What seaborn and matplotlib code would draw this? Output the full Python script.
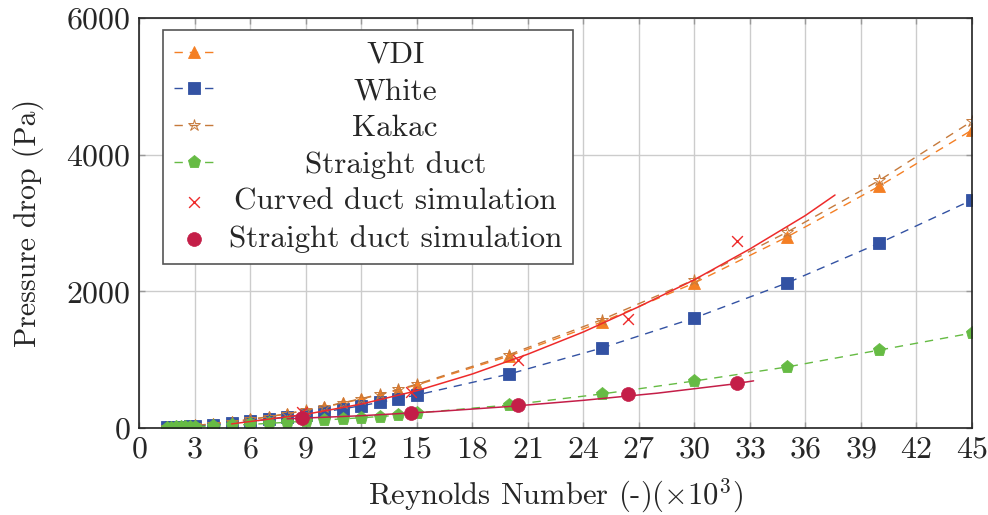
import numpy as np
import pandas as pd
import matplotlib
matplotlib.use("Agg")
import matplotlib.pyplot as plt
import seaborn as sns

# Reynolds numbers (x 10^3) for the correlations
re_corr = [1.5, 1.75, 2.0, 2.25, 2.5, 2.75, 3.0, 4, 5, 6, 7, 8, 9, 10, 11, 12,
           13, 14, 15, 20, 25, 30, 35, 40, 45]

# Pressure drop (Pa) from each correlation
dp_vdi = [11, 14, 18, 22, 27, 32, 37, 61, 91, 125, 164, 208, 256, 308, 364, 424,
          488, 556, 629, 1054, 1551, 2122, 2795, 3541, 4361]
dp_white = [8, 11, 14, 17, 21, 24, 28, 47, 70, 96, 126, 160, 197, 237, 280, 326,
            375, 428, 483, 790, 1171, 1610, 2122, 2707, 3337]
dp_kakac = [11, 14, 18, 22, 27, 32, 37, 61, 91, 126, 165, 210, 259, 312, 369, 430,
            495, 565, 640, 1075, 1585, 2170, 2865, 3625, 4490]
dp_straight = [5, 7, 9, 11, 13, 15, 17, 27, 39, 53, 68, 84, 100, 117, 134, 150,
               168, 186, 220, 337, 498, 688, 893, 1141, 1390]

# CFD results
re_sim = [8.8, 14.7, 20.5, 26.4, 32.3]
dp_curved_sim = [234, 527, 995, 1595, 2737]
dp_straight_sim = [146, 220, 337, 498, 659]

# Trend curves through the CFD results
re_curved_fit = [5, 9, 12, 15, 18, 21, 24, 27, 30, 33, 36, 37.6]
dp_curved_fit = [60, 200, 350, 545, 790, 1080, 1405, 1775, 2170, 2620, 3110, 3410]
re_straight_fit = [8, 12, 16, 20, 24, 28, 32, 33.2]
dp_straight_fit = [135, 180, 240, 315, 405, 510, 640, 690]

x_ticks = list(range(0, 46, 3))
y_ticks = [0, 2000, 4000, 6000]

sns.set_theme(style="ticks")
plt.rcParams["font.family"] = ["cmr10", "DejaVu Serif"]
plt.rcParams["mathtext.fontset"] = "cm"
plt.rcParams["axes.formatter.use_mathtext"] = True

c_vdi = "#F47F24"
c_white = "#3352A3"
c_kakac = "#C67A3C"
c_straight = "#66BB44"
c_curved = "#EE2B2B"
c_sim = "#C41E48"

fig = plt.figure(figsize=(9.88, 5.15), dpi=100)
ax = fig.add_axes([0.1407, 0.1689, 0.8431, 0.7961])

dash = (6, 5)
lw = 1.0

sns.lineplot(x=re_corr, y=dp_vdi, ax=ax, color=c_vdi, lw=lw,
             marker="^", markersize=9, markeredgecolor=c_vdi, markeredgewidth=0.6,
             estimator=None, sort=False, label="VDI", linestyle=(0, dash))
sns.lineplot(x=re_corr, y=dp_white, ax=ax, color=c_white, lw=lw,
             marker="s", markersize=8.5, markeredgecolor=c_white, markeredgewidth=0.6,
             estimator=None, sort=False, label="White", linestyle=(0, dash))
sns.lineplot(x=re_corr, y=dp_kakac, ax=ax, color=c_kakac, lw=lw,
             marker="*", markersize=9, markerfacecolor="none", markeredgecolor=c_kakac,
             markeredgewidth=0.7, estimator=None, sort=False, label="Kakac",
             linestyle=(0, dash))
sns.lineplot(x=re_corr, y=dp_straight, ax=ax, color=c_straight, lw=lw,
             marker="p", markersize=9.5, markeredgecolor=c_straight, markeredgewidth=0.6,
             estimator=None, sort=False, label="Straight duct", linestyle=(0, dash))

sns.lineplot(x=re_curved_fit, y=dp_curved_fit, ax=ax, color=c_curved, lw=1.1,
             estimator=None, sort=False, legend=False)
sns.lineplot(x=re_straight_fit, y=dp_straight_fit, ax=ax, color=c_sim, lw=1.1,
             estimator=None, sort=False, legend=False)

sns.scatterplot(x=re_sim, y=dp_curved_sim, ax=ax, marker="x", s=60, color=c_curved,
                linewidth=1.0, label="Curved duct simulation", zorder=5)
sns.scatterplot(x=re_sim, y=dp_straight_sim, ax=ax, marker="o", s=100, color=c_sim,
                edgecolor=c_sim, linewidth=0.5, label="Straight duct simulation",
                zorder=5)

ax.set_xlim(0, 45)
ax.set_ylim(0, 6000)
ax.set_xticks(x_ticks)
ax.set_yticks(y_ticks)
ax.grid(True, color="#cccccc", lw=1.0)
ax.set_axisbelow(True)
ax.tick_params(direction="in", length=4, width=1, color="#999999",
               labelsize=23, pad=6, top=True, right=True)
for sp in ax.spines.values():
    sp.set_color("#222222")
    sp.set_linewidth(1.2)

ax.set_xlabel(r"Reynolds Number (-)($\times10^3$)", fontsize=22, labelpad=9)
ax.set_ylabel("Pressure drop (Pa)", fontsize=21.5, labelpad=16)

leg = ax.legend(loc="upper left", bbox_to_anchor=(0.029, 0.971), fontsize=22.4,
                frameon=True, fancybox=False, framealpha=1, edgecolor="#555555",
                handlelength=1.3, handletextpad=0.45, labelspacing=0.29,
                borderpad=0.35, borderaxespad=0)
leg.get_frame().set_linewidth(1.2)

# centre the legend labels within their column
fig.canvas.draw()
renderer = fig.canvas.get_renderer()
widths = [t.get_window_extent(renderer).width for t in leg.get_texts()]
widest = max(widths)
for t, w in zip(leg.get_texts(), widths):
    t.set_position(((widest - w) / 2, 0))

fig.savefig("out.png", dpi=100)
